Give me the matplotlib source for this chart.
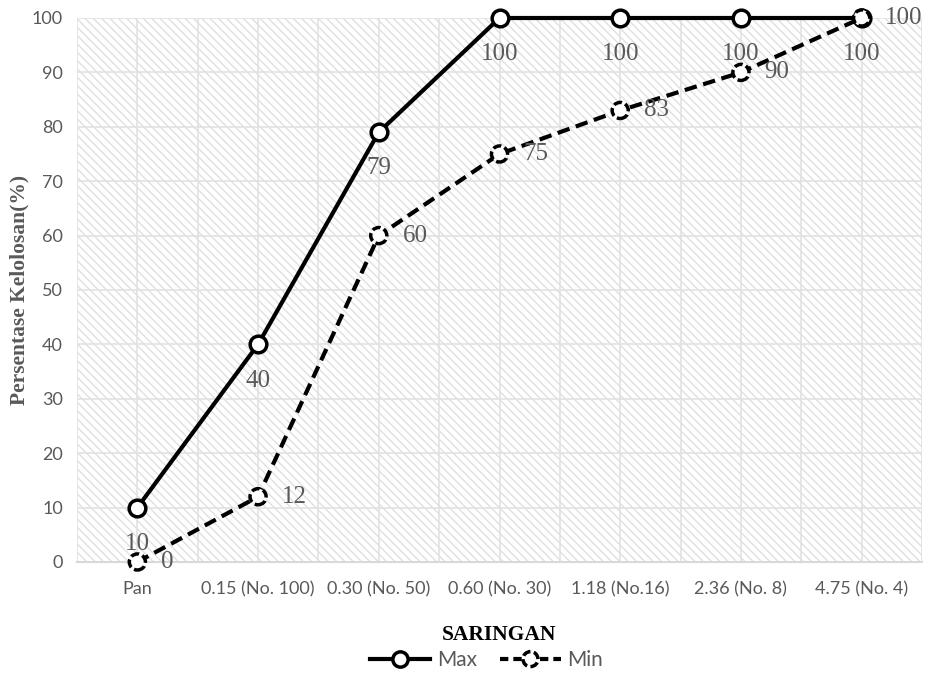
import matplotlib.pyplot as plt
import numpy as np
from matplotlib.lines import Line2D
from matplotlib.patches import Circle
from matplotlib.transforms import Affine2D, ScaledTranslation
from matplotlib.legend_handler import HandlerBase

# data
saringan = ["Pan", "0.15 (No. 100)", "0.30 (No. 50)", "0.60 (No. 30)",
            "1.18 (No.16)", "2.36 (No. 8)", "4.75 (No. 4)"]
max_vals = [10, 40, 79, 100, 100, 100, 100]
min_vals = [0, 12, 60, 75, 83, 90, 100]
y_ticks = [0, 10, 20, 30, 40, 50, 60, 70, 80, 90, 100]

grey = "#595959"
x = np.arange(len(saringan))
dash = (0, (3, 1.6))
circ_dash = (0, (2.4, 1.0))

plt.rcParams["hatch.linewidth"] = 1.0

fig = plt.figure(figsize=(9.27, 6.73), dpi=100)
ax = fig.add_axes([77 / 927, 1 - 562 / 673, 845 / 927, 544 / 673])

# hatched background
ax.fill_between([-0.5, len(saringan) - 0.5], 0, 100, facecolor="white",
                edgecolor="#e0e0e0", hatch="\\" * 4, linewidth=0, zorder=0)

ax.set_xlim(-0.5, len(saringan) - 0.5)
ax.set_ylim(0, 100)
ax.set_yticks(y_ticks)
ax.set_xticks(x)
ax.set_xticklabels(saringan)
ax.set_xticks(np.arange(-0.5, len(saringan), 1), minor=True)
ax.grid(True, which="both", color="#e2e2e2", linewidth=1.2, zorder=1)
ax.set_axisbelow(True)
ax.tick_params(which="both", length=0)
ax.tick_params(axis="x", labelcolor=grey, labelsize=13, pad=14)
ax.tick_params(axis="y", labelcolor=grey, labelsize=13, pad=10)
for lab in ax.get_xticklabels() + ax.get_yticklabels():
    lab.set_family("Lato")
for s in ["top", "right", "left"]:
    ax.spines[s].set_visible(False)
ax.spines["bottom"].set_color("#d9d9d9")
ax.spines["bottom"].set_linewidth(1.5)

# lines
ax.plot(x, max_vals, color="black", lw=3, marker="o", ms=12,
        mfc="white", mec="black", mew=2.5, zorder=4, clip_on=False)
ax.plot(x, min_vals, color="black", lw=3, ls=dash, zorder=3, clip_on=False)

# dashed circle markers for Min
scale = Affine2D().scale(fig.dpi / 72)
for xi, v in zip(x, min_vals):
    c = Circle((0, 0), 5.8, facecolor="white", edgecolor="black", lw=2.5,
               ls=circ_dash, zorder=5, clip_on=False,
               transform=scale + ScaledTranslation(xi, v, ax.transData))
    ax.add_artist(c)

# data labels
for xi, v in zip(x, max_vals):
    ax.annotate(str(v), (xi, v), xytext=(0, -26), textcoords="offset points",
                ha="center", va="center", fontsize=18, color=grey,
                family="Liberation Serif", zorder=6)
for xi, v in zip(x, min_vals):
    ax.annotate(str(v), (xi, v), xytext=(17, 0), textcoords="offset points",
                ha="left", va="center", fontsize=18, color=grey,
                family="Liberation Serif", zorder=6)

ax.set_ylabel("Persentase Kelolosan(%)", fontsize=15.5, fontweight="bold",
              color=grey, family="Liberation Serif", labelpad=2)
ax.set_xlabel("SARINGAN", fontsize=15.5, fontweight="bold", color="black",
              family="Liberation Serif", labelpad=20)


class DashedCircleHandler(HandlerBase):
    def create_artists(self, legend, orig, xdescent, ydescent, width, height,
                       fontsize, trans):
        y = height / 2 - ydescent
        ln = Line2D([-xdescent, width - xdescent], [y, y], color="black", lw=3,
                    ls=(0, (2, 1.2)), transform=trans)
        cc = Circle(((width) / 2 - xdescent, y), 5.4, facecolor="white",
                    edgecolor="black", lw=2.5, ls=circ_dash, transform=trans)
        return [ln, cc]


handles = [
    Line2D([], [], color="black", lw=3, marker="o", ms=11, mfc="white", mew=2.5),
    Line2D([], [], color="black"),
]
fig.legend(handles, ["Max", "Min"], loc="lower center", ncol=2, frameon=False,
           bbox_to_anchor=(0.525, -0.024), prop={"family": "Lato", "size": 15},
           labelcolor=grey, handlelength=2.9, handletextpad=0.33,
           columnspacing=1.1, handler_map={handles[1]: DashedCircleHandler()})

fig.savefig("out.png", dpi=100)
